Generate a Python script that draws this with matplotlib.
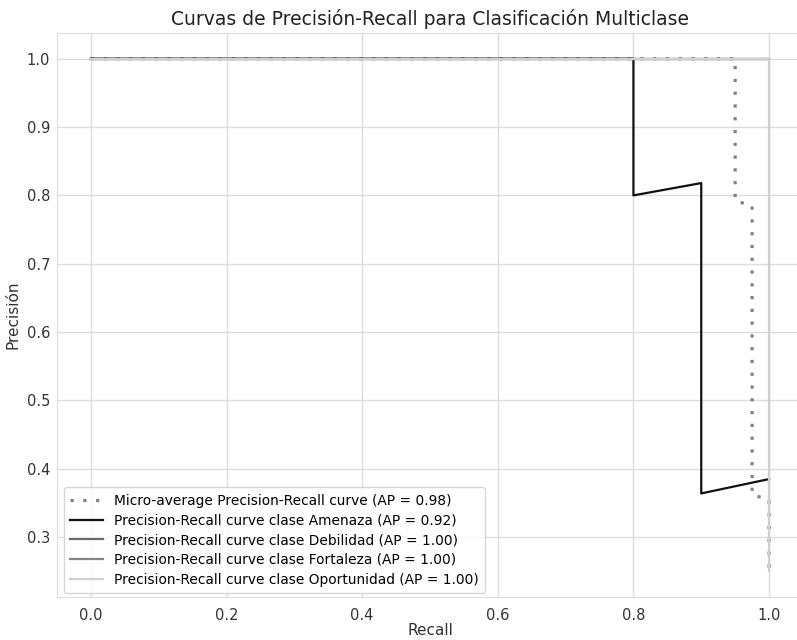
import matplotlib
matplotlib.use("Agg")
import matplotlib.pyplot as plt

# precision-recall points per curve (recall, precision)
micro_recall = [0.0, 0.95, 0.95, 0.975, 0.975, 1.0, 1.0]
micro_precision = [1.0, 1.0, 0.792, 0.785, 0.362, 0.355, 0.25]
micro_ap = 0.98

amenaza_recall = [0.0, 0.8, 0.8, 0.9, 0.9, 1.0]
amenaza_precision = [1.0, 1.0, 0.80, 0.818, 0.364, 0.385]
amenaza_ap = 0.92

debilidad_recall = [0.0, 1.0]
debilidad_precision = [1.0, 1.0]
debilidad_ap = 1.00

fortaleza_recall = [0.0, 1.0]
fortaleza_precision = [1.0, 1.0]
fortaleza_ap = 1.00

oportunidad_recall = [0.0, 1.0, 1.0]
oportunidad_precision = [1.0, 1.0, 0.25]
oportunidad_ap = 1.00

classes = ["Amenaza", "Debilidad", "Fortaleza", "Oportunidad"]
class_curves = [
    (amenaza_recall, amenaza_precision, amenaza_ap),
    (debilidad_recall, debilidad_precision, debilidad_ap),
    (fortaleza_recall, fortaleza_precision, fortaleza_ap),
    (oportunidad_recall, oportunidad_precision, oportunidad_ap),
]
class_colors = ["#111111", "#6a6a6a", "#858585", "#cfcfcf"]

plt.rcParams["font.family"] = "DejaVu Sans"

fig = plt.figure(figsize=(7.97, 6.4), dpi=100)
# axes run slightly past the right edge of the canvas
ax = fig.add_axes([0.0715, 0.0672, 0.936, 0.8812])

ax.plot(micro_recall, micro_precision, color="#808080", linestyle=(0, (1, 3)), linewidth=2.3,
        label=f"Micro-average Precision-Recall curve (AP = {micro_ap:.2f})")
for name, (rec, prec, ap), col in zip(classes, class_curves, class_colors):
    ax.plot(rec, prec, color=col, linewidth=1.6,
            label=f"Precision-Recall curve clase {name} (AP = {ap:.2f})")

ax.set_xlim(-0.05, 1.05)
ax.set_ylim(0.2125, 1.0375)
ax.set_xticks([0.0, 0.2, 0.4, 0.6, 0.8, 1.0])
ax.set_yticks([0.3, 0.4, 0.5, 0.6, 0.7, 0.8, 0.9, 1.0])
ax.grid(True, color="#dddddd", linewidth=1.0)
ax.set_axisbelow(True)
ax.tick_params(length=0, labelsize=10.5, colors="#333333")
ax.tick_params(axis="x", pad=8)
ax.tick_params(axis="y", pad=5)
for sp in ax.spines.values():
    sp.set_color("#dddddd")
ax.spines["right"].set_visible(False)

ax.set_xlabel("Recall", fontsize=11, color="#333333", labelpad=0)
ax.set_ylabel("Precisión", fontsize=11, color="#333333", labelpad=4)
ax.set_title("Curvas de Precisión-Recall para Clasificación Multiclase", fontsize=13.5,
             color="#222222", pad=6)

leg = ax.legend(loc="lower left", fontsize=9.9, frameon=True, handlelength=2.4,
                borderpad=0.45, labelspacing=0.42, bbox_to_anchor=(0.0, -0.005))
leg.get_frame().set_edgecolor("#cccccc")
leg.get_frame().set_alpha(0.8)

fig.savefig("out.png", dpi=100)
